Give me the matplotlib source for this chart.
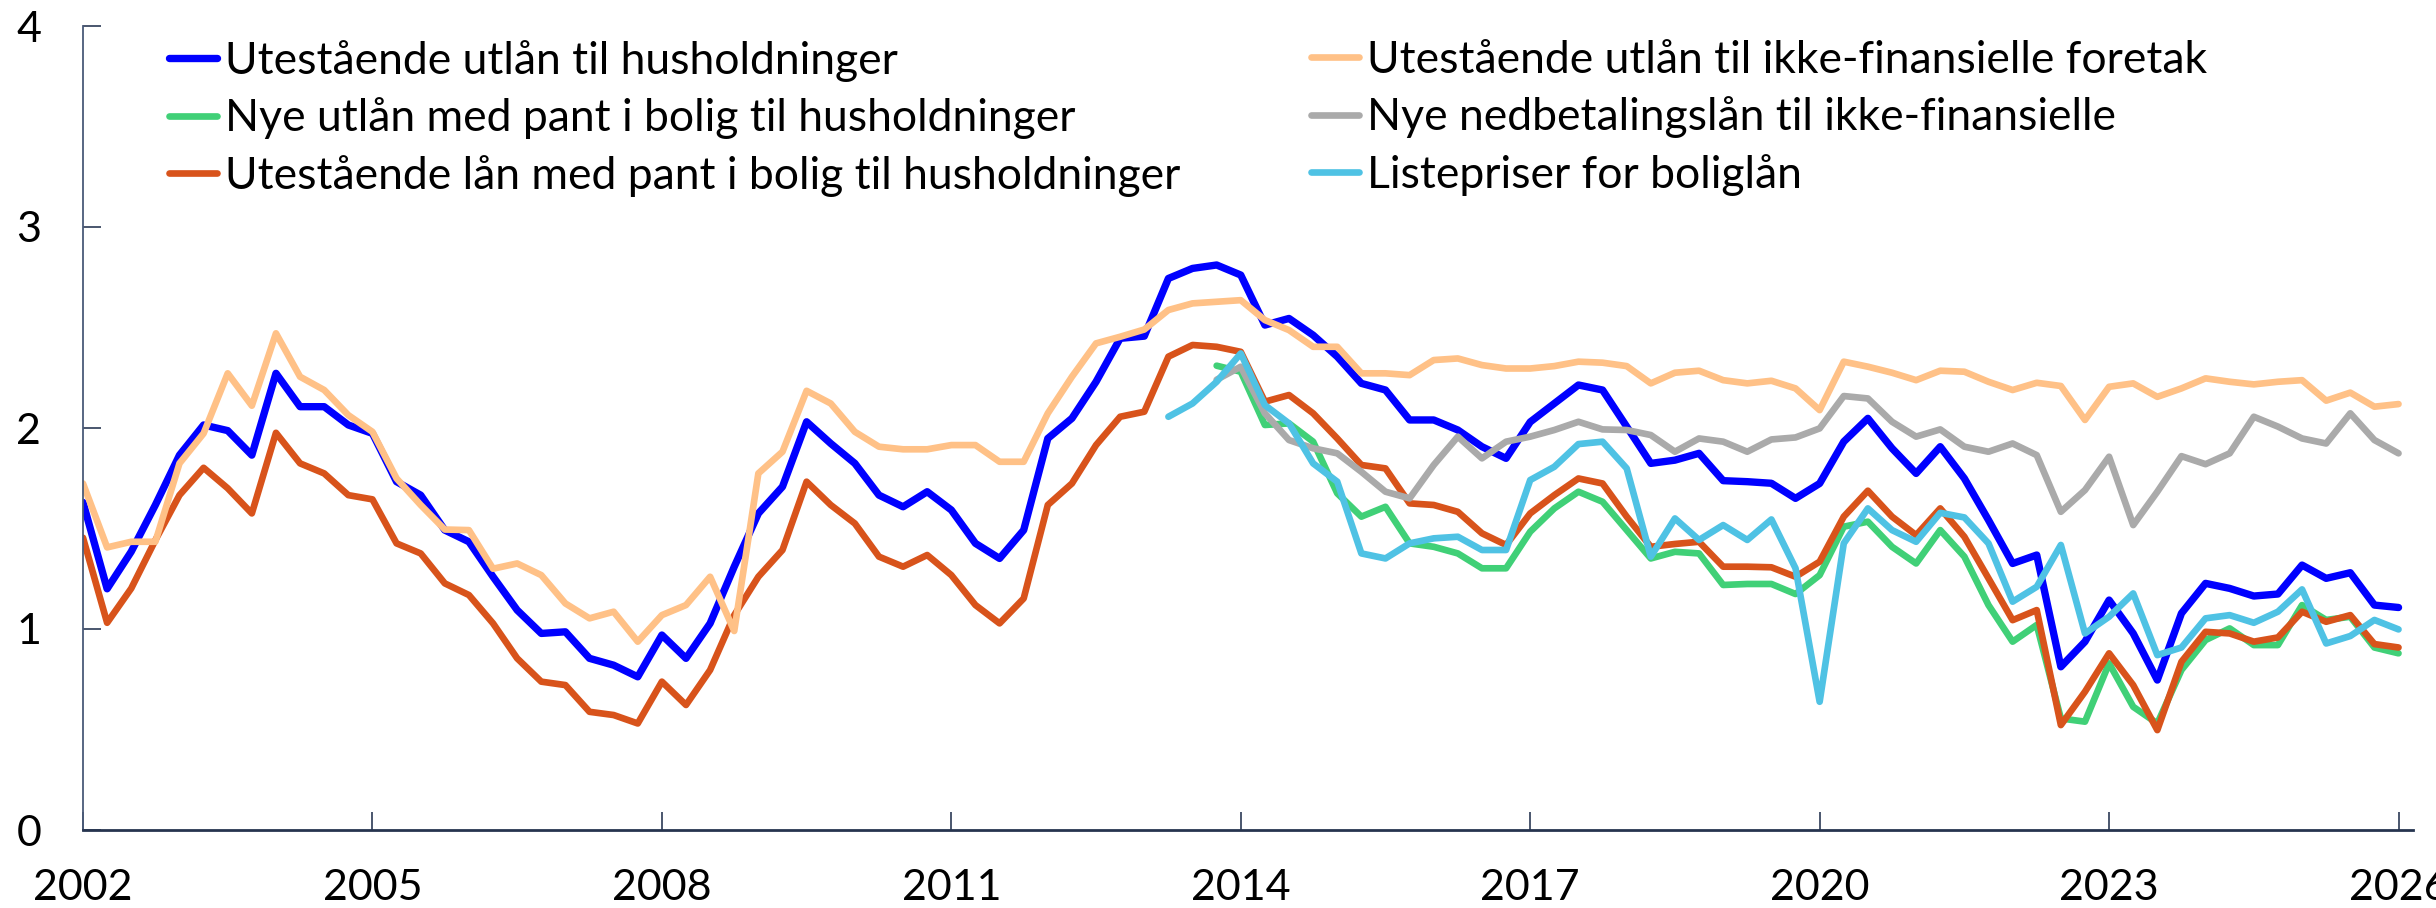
import numpy as np
import matplotlib
matplotlib.use("Agg")
import matplotlib.pyplot as plt

# Kvartalsdata 2002K1 - 2026K1 (97 punkter)
years = [2002, 2005, 2008, 2011, 2014, 2017, 2020, 2023, 2026]

utest_hush = [
    1.63, 1.20, 1.385, 1.617, 1.865, 2.015, 1.987, 1.865, 2.272, 2.106, 2.106, 2.015,
    1.973, 1.733, 1.666, 1.492, 1.434, 1.26, 1.094, 0.978, 0.986, 0.854, 0.82, 0.762,
    0.97, 0.854, 1.028, 1.31, 1.575, 1.708, 2.031, 1.923, 1.824, 1.666, 1.608, 1.683,
    1.592, 1.426, 1.351, 1.492, 1.948, 2.048, 2.23, 2.446, 2.457, 2.744, 2.794, 2.811,
    2.761, 2.512, 2.545, 2.462, 2.355, 2.222, 2.189, 2.04, 2.04, 1.99, 1.907, 1.849,
    2.03, 2.122, 2.214, 2.189, 2.007, 1.824, 1.84, 1.874, 1.738, 1.733, 1.725, 1.65,
    1.724, 1.932, 2.048, 1.899, 1.774, 1.907, 1.749, 1.542, 1.326, 1.368, 0.812, 0.937,
    1.144, 0.978, 0.746, 1.078, 1.227, 1.202, 1.164, 1.174, 1.318, 1.252, 1.28, 1.119, 1.107,
]

nye_pant = [np.nan] * 47 + [
    2.31,
    2.28, 2.015, 2.023, 1.932, 1.675, 1.559, 1.608, 1.426, 1.409, 1.376, 1.302, 1.302,
    1.484, 1.6, 1.683, 1.633, 1.492, 1.351, 1.384, 1.376, 1.219, 1.224, 1.224, 1.174,
    1.268, 1.509, 1.534, 1.409, 1.326, 1.492, 1.36, 1.119, 0.937, 1.02, 0.555, 0.539,
    0.829, 0.613, 0.53, 0.796, 0.945, 1.003, 0.92, 0.92, 1.119, 1.045, 1.061, 0.908, 0.879,
]

utest_pant = [
    1.454, 1.031, 1.202, 1.442, 1.666, 1.802, 1.70, 1.575, 1.976, 1.824, 1.774, 1.666,
    1.645, 1.426, 1.376, 1.227, 1.169, 1.028, 0.854, 0.738, 0.721, 0.588, 0.572, 0.53,
    0.738, 0.622, 0.796, 1.069, 1.26, 1.393, 1.733, 1.617, 1.525, 1.36, 1.31, 1.368,
    1.268, 1.119, 1.028, 1.152, 1.617, 1.724, 1.915, 2.056, 2.081, 2.355, 2.413, 2.404,
    2.379, 2.131, 2.164, 2.073, 1.948, 1.816, 1.799, 1.625, 1.617, 1.583, 1.476, 1.418,
    1.575, 1.666, 1.749, 1.724, 1.559, 1.409, 1.423, 1.434, 1.31, 1.31, 1.307, 1.26,
    1.335, 1.559, 1.688, 1.559, 1.467, 1.6, 1.459, 1.252, 1.044, 1.094, 0.522, 0.688,
    0.879, 0.721, 0.497, 0.837, 0.986, 0.978, 0.937, 0.958, 1.086, 1.036, 1.069, 0.925, 0.908,
]

utest_foretak = [
    1.724, 1.406, 1.434, 1.434, 1.824, 1.973, 2.272, 2.111, 2.471, 2.255, 2.189, 2.064,
    1.981, 1.749, 1.617, 1.495, 1.492, 1.30, 1.326, 1.268, 1.127, 1.053, 1.086, 0.937,
    1.069, 1.119, 1.26, 0.99, 1.774, 1.882, 2.185, 2.122, 1.981, 1.907, 1.894, 1.894,
    1.915, 1.915, 1.832, 1.832, 2.073, 2.255, 2.421, 2.454, 2.49, 2.587, 2.62, 2.628,
    2.636, 2.537, 2.487, 2.404, 2.404, 2.272, 2.272, 2.263, 2.338, 2.346, 2.313, 2.296,
    2.296, 2.308, 2.33, 2.325, 2.308, 2.222, 2.275, 2.285, 2.238, 2.222, 2.235, 2.197,
    2.089, 2.33, 2.305, 2.275, 2.238, 2.285, 2.28, 2.23, 2.189, 2.225, 2.209, 2.04,
    2.205, 2.222, 2.155, 2.197, 2.247, 2.23, 2.217, 2.23, 2.238, 2.136, 2.176, 2.106, 2.119,
]

nye_nedbet = [np.nan] * 47 + [
    2.24,
    2.305, 2.073, 1.94, 1.899, 1.874, 1.782, 1.683, 1.65, 1.816, 1.957, 1.849, 1.932,
    1.957, 1.99, 2.031, 1.993, 1.99, 1.965, 1.882, 1.948, 1.932, 1.882, 1.943, 1.953,
    1.998, 2.159, 2.147, 2.031, 1.957, 1.993, 1.907, 1.882, 1.923, 1.865, 1.583, 1.691,
    1.857, 1.517, 1.683, 1.86, 1.82, 1.874, 2.056, 2.007, 1.948, 1.923, 2.073, 1.94, 1.874,
]

listepriser = [np.nan] * 45 + [
    2.056, 2.122, 2.23,
    2.371, 2.114, 2.023, 1.824, 1.733, 1.376, 1.351, 1.426, 1.451, 1.459, 1.393, 1.393,
    1.741, 1.807, 1.92, 1.932, 1.799, 1.36, 1.55, 1.443, 1.517, 1.443, 1.545, 1.302,
    0.638, 1.426, 1.6, 1.492, 1.434, 1.578, 1.555, 1.426, 1.136, 1.21, 1.418, 0.978,
    1.061, 1.177, 0.87, 0.908, 1.053, 1.069, 1.031, 1.086, 1.197, 0.928, 0.965, 1.045, 0.998,
]

plt.rcParams['font.family'] = ['Lato', 'DejaVu Sans']

fig = plt.figure(figsize=(24.36, 9.08), dpi=100)
ax = fig.add_axes([83 / 2436, 78 / 908, (2413 - 83) / 2436, (830 - 26) / 908])

x = np.arange(len(utest_hush))
lw = 4.8
h1, = ax.plot(x, utest_hush, color='#0000ff', lw=5.3, solid_capstyle='round',
              label='Utestående utlån til husholdninger')
h2, = ax.plot(x, nye_pant, color='#40d077', lw=lw, solid_capstyle='round',
              label='Nye utlån med pant i bolig til husholdninger')
h3, = ax.plot(x, utest_pant, color='#d8531b', lw=lw, solid_capstyle='round',
              label='Utestående lån med pant i bolig til husholdninger')
h4, = ax.plot(x, utest_foretak, color='#ffc187', lw=lw, solid_capstyle='round',
              label='Utestående utlån til ikke-finansielle foretak')
h5, = ax.plot(x, nye_nedbet, color='#aaaaaa', lw=lw, solid_capstyle='round',
              label='Nye nedbetalingslån til ikke-finansielle')
h6, = ax.plot(x, listepriser, color='#4fc2e4', lw=lw, solid_capstyle='round',
              label='Listepriser for boliglån')

ax.set_xlim(0, 96.6)
ax.set_ylim(0, 4)
ax.set_yticks([0, 1, 2, 3, 4])
ax.set_xticks([(y - 2002) * 4 for y in years])
ax.set_xticklabels([str(y) for y in years])

for s in ['top', 'right']:
    ax.spines[s].set_visible(False)
ax.spines['left'].set_color('#4a5a78')
ax.spines['left'].set_linewidth(1.3)
ax.spines['bottom'].set_color('#26344f')
ax.spines['bottom'].set_linewidth(2)
ax.tick_params(direction='in', length=13, width=1.2, color='#2b3a55', labelsize=31)
ax.tick_params(axis='x', pad=28)
ax.tick_params(axis='y', pad=30)

leg_kw = dict(loc='upper left', bbox_transform=fig.transFigure, frameon=False,
              fontsize=32, borderpad=0, borderaxespad=0, handlelength=1.08,
              handletextpad=0.19, labelspacing=0.35)
leg1 = ax.legend(handles=[h1, h2, h3], bbox_to_anchor=(169 / 2436, 1 - 40 / 908), **leg_kw)
ax.add_artist(leg1)
ax.legend(handles=[h4, h5, h6], bbox_to_anchor=(1311 / 2436, 1 - 40 / 908), **leg_kw)

fig.savefig('out.png', dpi=100)
